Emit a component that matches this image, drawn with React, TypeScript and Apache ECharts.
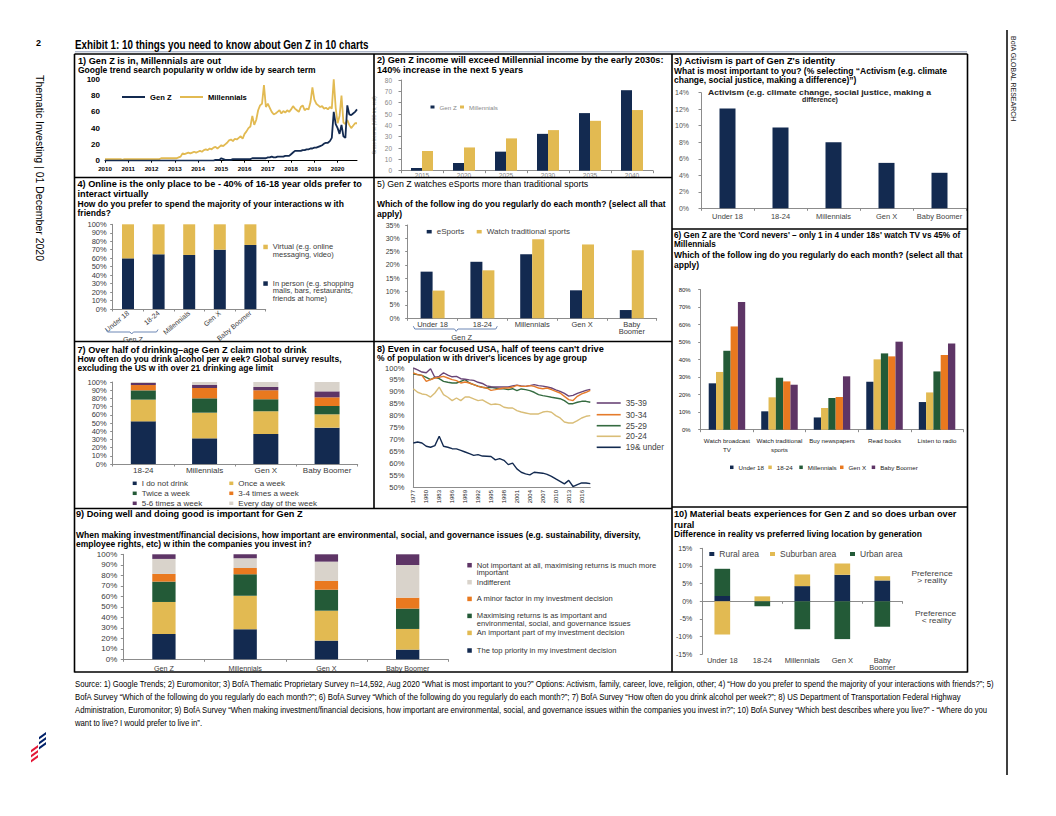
import React, { useEffect, useRef } from 'react';
import * as echarts from 'echarts';

const FONT = '"Liberation Sans", Arial, Helvetica, sans-serif';

const NAVY = '#132a50';
const GOLD = '#e2ba52';
const GREEN = '#235a37';
const ORANGE = '#e9791f';
const PURPLE = '#5e3566';
const LIGHT = '#d9d3cb';
const AXIS = '#8c8c8c';
const LABEL = '#3a3a3a';

// ---------- 1) Google trends (monthly, Jan 2010 - Nov 2020)
const trendYears = ['2010', '2011', '2012', '2013', '2014', '2015', '2016', '2017', '2018', '2019', '2020'];
const millennialsTrend = [
  2, 2, 2, 2, 2, 2, 2, 2, 2, 1, 2, 2,
  2, 2, 2, 2, 2, 2, 2, 2, 2, 2, 2, 2,
  2, 2, 2, 2, 2, 3, 3, 3, 3, 3, 3, 3,
  3, 3, 4, 5, 9, 8, 9, 10, 9, 10, 11, 10,
  11, 12, 11, 13, 14, 13, 15, 14, 16, 17, 15, 17,
  19, 18, 20, 22, 25, 26, 24, 27, 26, 28, 30, 27,
  33, 36, 40, 42, 55, 44, 50, 62, 68, 70, 93, 66,
  70, 65, 60, 57, 58, 60, 62, 58, 61, 59, 62, 60,
  63, 67, 64, 62, 60, 66, 68, 62, 64, 63, 72, 90,
  75, 70, 68, 66, 67, 64, 65, 63, 66, 64, 100, 65,
  46, 55, 80, 47, 45, 50, 44, 40, 43, 46, 46,
];
const genZTrend = [
  0, 0, 0, 0, 0, 0, 0, 0, 0, 0, 0, 0,
  0, 0, 0, 0, 0, 0, 0, 0, 0, 0, 0, 0,
  0, 0, 0, 0, 0, 0, 0, 0, 0, 0, 0, 0,
  0, 0, 0, 0, 0, 0, 0, 0, 0, 0, 0, 0,
  0, 0, 0, 0, 0, 0, 0, 0, 0, 1, 1, 1,
  3, 2, 1, 1, 1, 1, 2, 2, 2, 2, 2, 2,
  2, 2, 2, 2, 3, 3, 3, 3, 3, 3, 3, 3,
  4, 4, 5, 4, 4, 5, 5, 5, 5, 6, 6, 6,
  8, 10, 12, 12, 12, 12, 13, 13, 14, 14, 15, 15,
  16, 16, 17, 18, 19, 21, 22, 22, 24, 28, 60, 45,
  40, 33, 44, 30, 28, 68, 57, 56, 58, 60, 63,
];
const trendMonths = trendYears
  .flatMap((y) => ['01', '02', '03', '04', '05', '06', '07', '08', '09', '10', '11', '12'].map((m) => `${y}-${m}`))
  .slice(0, genZTrend.length);

// ---------- 2) Income
const incomeYears = ['2015', '2020', '2025', '2030', '2035', '2040'];
const genZIncome = [2.4, 6.8, 16.8, 32.5, 50.8, 71];
const millennialIncome = [17.4, 20.5, 28.5, 35.8, 44, 53.5];

// ---------- 3) Activism
const generations5 = ['Under 18', '18-24', 'Millennials', 'Gen X', 'Baby Boomer'];
const activismShare = [12.1, 9.8, 8.0, 5.5, 4.3];

// ---------- 4) Online vs in person
const inPersonShare = [59.8, 64.6, 63.8, 70, 75.6];
const virtualShare = [40.2, 35.4, 36.2, 30, 24.4];

// ---------- 5) eSports
const sportsCats = ['Under 18', '18-24', 'Millennials', 'Gen X', 'Baby\nBoomer'];
const eSportsShare = [17.5, 21.2, 24, 10.5, 3.1];
const tradSportsShare = [10.4, 18, 29.7, 27.7, 25.5];

// ---------- 6) Cord nevers
const activities = ['Watch broadcast\nTV', 'Watch traditional\nsports', 'Buy newspapers', 'Read books', 'Listen to radio'];
const actUnder18 = [26.5, 10.5, 7, 27.4, 15.8];
const act1824 = [33, 18.5, 12.4, 40.2, 21.3];
const actMillennials = [45.1, 29.7, 18.1, 43.6, 33.3];
const actGenX = [59, 27.6, 18.7, 41.9, 42.7];
const actBoomer = [73, 25.7, 30.5, 50.3, 49.3];

// ---------- 7) Drinking
const drinkGens = ['18-24', 'Millennials', 'Gen X', 'Baby Boomer'];
const noDrink = [52, 31.3, 36.6, 44.3];
const onceWeek = [26.5, 31.3, 27.6, 16.3];
const twiceWeek = [11.3, 17.5, 14.7, 10.1];
const threeFourWeek = [6.5, 12.6, 10.9, 10.6];
const fiveSixWeek = [2.5, 4, 4.1, 7.3];
const everyDay = [1.2, 3.3, 6.1, 11.4];

// ---------- 8) Licences
const licenceYears = [
  '1977', '1978', '1979', '1980', '1981', '1982', '1983', '1984', '1985', '1986',
  '1987', '1988', '1989', '1990', '1991', '1992', '1993', '1994', '1995', '1996',
  '1997', '1998', '1999', '2000', '2001', '2002', '2003', '2004', '2005', '2006',
  '2007', '2008', '2009', '2010', '2011', '2012', '2013', '2014', '2015', '2016',
  '2017', '2018',
];
const lic35 = [100, 99.2, 98.3, 98.0, 99.7, 96.0, 96.5, 98.0, 97.0, 96.3, 96.5, 95.5, 95.3, 95.0, 94.8, 94.0, 93.5, 92.5, 92.1, 92.0, 92.0, 92.0, 92.0, 92.5, 92.8, 92.5, 92.3, 92.6, 93.0, 92.6, 92.4, 92.0, 91.6, 90.8, 90.2, 89.3, 88.2, 88.5, 89.3, 90.0, 90.6, 91.0];
const lic30 = [97.9, 97.2, 96.9, 94.4, 95.1, 95.8, 96.1, 96.5, 95.8, 95.1, 94.7, 93.7, 94.1, 93.7, 93.0, 92.3, 91.9, 91.6, 90.6, 90.9, 91.3, 91.6, 91.6, 92.0, 92.7, 92.3, 92.3, 92.6, 92.3, 91.6, 91.3, 91.6, 90.9, 90.2, 89.5, 88.1, 86.7, 86.3, 88.1, 89.1, 89.8, 90.6];
const lic25 = [97.5, 97.2, 96.9, 96.1, 95.1, 96.1, 95.5, 94.4, 94.0, 93.7, 93.7, 94.4, 95.1, 93.7, 93.0, 92.4, 91.9, 91.6, 91.9, 91.6, 91.3, 91.3, 90.9, 91.3, 90.5, 91.2, 90.9, 90.5, 89.8, 88.8, 88.4, 88.1, 87.7, 87.4, 87.1, 86.3, 85.0, 85.0, 85.6, 86.0, 86.0, 85.6];
const lic20 = [91.3, 89.8, 89.1, 88.8, 87.8, 89.5, 92.0, 88.8, 87.7, 86.3, 87.4, 86.3, 87.8, 87.8, 87.0, 86.3, 86.6, 85.6, 84.6, 84.9, 84.6, 83.5, 83.2, 83.2, 82.1, 81.5, 81.1, 80.7, 80.7, 80.7, 81.5, 81.8, 81.4, 80.0, 79.0, 77.3, 76.9, 76.9, 77.9, 79.0, 79.7, 80.0];
const lic19 = [68.5, 68.9, 68.5, 67.1, 66.7, 67.4, 71.3, 67.1, 66.7, 66.1, 66.0, 65.4, 64.7, 64.0, 63.3, 63.6, 63.0, 62.9, 62.8, 61.4, 61.9, 61.2, 59.4, 60.0, 57.6, 56.2, 55.5, 55.1, 56.2, 56.0, 55.8, 55.3, 54.5, 53.4, 52.4, 51.3, 52.8, 50.2, 51.0, 51.7, 51.7, 51.4];

// ---------- 9) ESG importance
const investGens = ['Gen Z', 'Millennials', 'Gen X', 'Baby Boomer'];
const topPriority = [24.1, 28.6, 17.8, 9.2];
const importantPart = [30.5, 32.0, 28.5, 19.7];
const asImportant = [19.4, 20.4, 20.0, 19.4];
const minorFactor = [7.3, 6.0, 8.3, 10.4];
const indifferent = [14.3, 9.2, 18.4, 31.1];
const notImportant = [4.4, 3.8, 7.0, 10.2];

// ---------- 10) Living location
const locationGens = ['Under 18', '18-24', 'Millennials', 'Gen X', 'Baby\nBoomer'];
const ruralDiff = [1.5, 0, 4.3, 7.5, 5.9];
const suburbanDiff = [-9.4, 1.4, 3.3, 3.2, 1.2];
const urbanDiff = [7.7, -1.4, -7.9, -10.7, -7.2];

const SOURCE_LINES = [
  'Source: 1) Google Trends; 2) Euromonitor; 3) BofA Thematic Proprietary Survey n=14,592, Aug 2020 \u201cWhat is most important to you?\u201d Options: Activism, family, career, love, religion, other; 4) \u201cHow do you prefer to spend the majority of your interactions with friends?\u201d; 5)',
  'BofA Survey \u201cWhich of the following do you regularly do each month?\u201d; 6) BofA Survey \u201cWhich of the following do you regularly do each month?\u201d; 7) BofA Survey \u201cHow often do you drink alcohol per week?\u201d; 8) US Department of Transportation Federal Highway',
  'Administration, Euromonitor; 9) BofA Survey \u201cWhen making investment/financial decisions, how important are environmental, social, and governance issues within the companies you invest in?\u201d; 10) BofA Survey \u201cWhich best describes where you live?\u201d - \u201cWhere do you',
  'want to live? I would prefer to live in\u201d.',
];

const DISPLAY: Record<string, string> = {
  'Virtual|4': 'Virtual (e.g. online',
  'In person|4': 'In person (e.g. shopping',
};

function catX(gridIndex: number, data: string[], label: any = {}, extra: any = {}): any {
  return {
    type: 'category', gridIndex, data,
    axisLine: { show: true, lineStyle: { color: AXIS, width: 1 } },
    axisTick: { show: true, length: 2.5, lineStyle: { color: AXIS } },
    axisLabel: { fontSize: 7.5, color: LABEL, fontFamily: FONT, margin: 3, interval: 0, lineHeight: 7.5, ...label },
    splitLine: { show: false },
    ...extra,
  };
}
function valY(gridIndex: number, min: number, max: number, interval: number, suffix: string, label: any = {}, extra: any = {}): any {
  return {
    type: 'value', gridIndex, min, max, interval,
    axisLine: { show: true, lineStyle: { color: AXIS, width: 1 } },
    axisTick: { show: true, length: 2.5, lineStyle: { color: AXIS } },
    axisLabel: { fontSize: 7.5, color: LABEL, fontFamily: FONT, margin: 6, formatter: (v: number) => `${v}${suffix}`, ...label },
    splitLine: { show: false },
    ...extra,
  };
}
function bar(name: string, data: number[], color: string, idx: number, opts: any = {}): any {
  return { type: 'bar', name, data, xAxisIndex: idx, yAxisIndex: idx, itemStyle: { color }, silent: true, ...opts };
}
function line(name: string, data: number[], color: string, idx: number, width = 1.4): any {
  return {
    type: 'line', name, data, xAxisIndex: idx, yAxisIndex: idx, symbol: 'none', silent: true,
    lineStyle: { color, width }, itemStyle: { color },
  };
}
function leg(name: string, left: number, cy: number, o: any = {}): any {
  const h = o.h ?? 8;
  return {
    data: [name], left, top: cy - h / 2, orient: 'horizontal', padding: 0, itemGap: 0,
    itemWidth: o.iw ?? 4.5, itemHeight: o.ih ?? 4.5, selectedMode: false, icon: 'rect',
    textStyle: { fontSize: o.size ?? 7.5, color: o.color ?? LABEL, fontFamily: FONT, lineHeight: h, fontWeight: o.weight ?? 'normal' },
    formatter: (n: string) => DISPLAY[n] ?? n.split('|')[0],
  };
}
function T(x: number, y: number, text: string, o: any = {}): any {
  return {
    type: 'text', x, y, z: 100, silent: true, rotation: o.rot ?? 0, scaleX: o.sx ?? 1,
    style: {
      text, fill: o.fill ?? '#000', fontSize: o.size ?? 7, fontWeight: o.weight ?? 'normal',
      fontFamily: FONT, align: o.align ?? 'left', verticalAlign: 'middle',
    },
  };
}
const TITLE = { size: 9.2, weight: 'bold' };
const SUB = { size: 8.5, weight: 'bold' };
function L(x1: number, y1: number, x2: number, y2: number, w = 1.6, c = '#000'): any {
  return { type: 'line', z: 100, silent: true, shape: { x1, y1, x2, y2 }, style: { stroke: c, lineWidth: w } };
}
function poly(points: number[][], fill: string): any {
  return { type: 'polygon', z: 100, silent: true, shape: { points }, style: { fill } };
}

function buildOption(): any {
  const grids = [
    { left: 105, top: 79.3, width: 252, height: 81.4 },
    { left: 401, top: 80, width: 252, height: 90.7 },
    { left: 701, top: 92.7, width: 265, height: 115.6 },
    { left: 112.7, top: 224.3, width: 153, height: 84.7 },
    { left: 407.7, top: 225, width: 249, height: 93.3 },
    { left: 700.7, top: 289.7, width: 262.6, height: 140 },
    { left: 112.7, top: 382, width: 245, height: 82 },
    { left: 413.3, top: 368, width: 177, height: 119 },
    { left: 123.3, top: 554.3, width: 325, height: 105 },
    { left: 702.3, top: 548.3, width: 200, height: 106 },
  ].map((g) => ({ ...g, containLabel: false, outerBoundsMode: 'none' }));

  const yearTick = (i: number) => i % 12 === 0;
  const xAxis: any[] = [
    catX(0, trendMonths, { fontSize: 6.2, fontWeight: 'bold', color: '#000', margin: 4, interval: yearTick, formatter: (v: string) => v.slice(0, 4) },
      { boundaryGap: false, axisLine: { lineStyle: { color: '#000', width: 1 } }, axisTick: { interval: yearTick, length: 2, lineStyle: { color: '#000' } } }),
    catX(1, incomeYears, { fontSize: 6.5, color: '#888', margin: 1 }),
    catX(2, generations5, { margin: 4, color: '#444' }),
    catX(3, generations5, { rotate: 40, margin: 3, fontSize: 7 }),
    catX(4, sportsCats, { margin: 3, lineHeight: 7, fontSize: 7.5 }),
    catX(5, activities, { fontSize: 6.2, lineHeight: 9.3, margin: 6, color: '#222' }),
    catX(6, drinkGens, { margin: 3, fontSize: 8 }),
    catX(7, licenceYears, { fontSize: 6, rotate: 90, interval: 2, margin: 3, color: '#222' },
      { boundaryGap: false, axisTick: { show: false } }),
    catX(8, investGens, { margin: 5, fontSize: 7.2 }),
    catX(9, locationGens, { margin: 3, lineHeight: 7 }, { axisLine: { show: false, onZero: false }, axisTick: { show: false } }),
    {
      type: 'category', gridIndex: 9, data: locationGens, position: 'bottom',
      axisLine: { show: true, onZero: true, lineStyle: { color: AXIS, width: 1 } },
      axisTick: { show: true, length: 2.5, lineStyle: { color: AXIS } },
      axisLabel: { show: false }, splitLine: { show: false },
    },
  ];
  const yAxis: any[] = [
    valY(0, 0, 100, 20, '', { fontSize: 8, fontWeight: 'bold', color: '#000', margin: 5 },
      { axisLine: { lineStyle: { color: '#000', width: 1 } }, axisTick: { length: 2, lineStyle: { color: '#000' } } }),
    valY(1, 0, 80, 10, '', { fontSize: 6.5, color: '#888', margin: 9 },
      { name: 'Gross income (USD trn, real)', nameLocation: 'middle', nameRotate: 90, nameGap: 24, nameTextStyle: { fontSize: 4.5, color: '#999', fontFamily: FONT } }),
    valY(2, 0, 14, 2, '%', { margin: 12, color: '#555', fontSize: 7 }),
    valY(3, 0, 100, 10, '%', { margin: 6 }),
    valY(4, 0, 35, 5, '%', { margin: 8, fontSize: 7 }),
    valY(5, 0, 80, 10, '%', { fontSize: 6, margin: 10, color: '#222' }),
    valY(6, 0, 100, 10, '%', { margin: 6 }),
    valY(7, 50, 100, 5, '%', { margin: 9 }, { axisTick: { show: false } }),
    valY(8, 0, 100, 10, '%', { margin: 6, fontSize: 8 }),
    valY(9, -15, 15, 5, '%', { margin: 10, fontSize: 7 }),
  ];

  const series: any[] = [
    line('Millennials|1', millennialsTrend, GOLD, 0, 1.8),
    line('Gen Z|1', genZTrend, NAVY, 0, 1.8),

    bar('Gen Z|2', genZIncome, NAVY, 1, { barWidth: 11, barGap: '0%' }),
    bar('Millennials|2', millennialIncome, GOLD, 1, { barWidth: 11, barGap: '0%' }),

    bar('Activism|3', activismShare, NAVY, 2, { barWidth: 16 }),

    bar('In person|4', inPersonShare, NAVY, 3, { barWidth: 12, stack: 's4' }),
    bar('Virtual|4', virtualShare, GOLD, 3, { barWidth: 12, stack: 's4' }),

    bar('eSports|5', eSportsShare, NAVY, 4, { barWidth: 12, barGap: '0%' }),
    bar('Watch traditional sports|5', tradSportsShare, GOLD, 4, { barWidth: 12, barGap: '0%' }),

    bar('Under 18|6', actUnder18, NAVY, 5, { barWidth: 7.3, barGap: '0%' }),
    bar('18-24|6', act1824, GOLD, 5, { barWidth: 7.3, barGap: '0%' }),
    bar('Millennials|6', actMillennials, GREEN, 5, { barWidth: 7.3, barGap: '0%' }),
    bar('Gen X|6', actGenX, ORANGE, 5, { barWidth: 7.3, barGap: '0%' }),
    bar('Baby Boomer|6', actBoomer, PURPLE, 5, { barWidth: 7.3, barGap: '0%' }),

    bar('I do not drink|7', noDrink, NAVY, 6, { barWidth: 25, stack: 's7' }),
    bar('Once a week|7', onceWeek, GOLD, 6, { barWidth: 25, stack: 's7' }),
    bar('Twice a week|7', twiceWeek, GREEN, 6, { barWidth: 25, stack: 's7' }),
    bar('3-4 times a week|7', threeFourWeek, ORANGE, 6, { barWidth: 25, stack: 's7' }),
    bar('5-6 times a week|7', fiveSixWeek, PURPLE, 6, { barWidth: 25, stack: 's7' }),
    bar('Every day of the week|7', everyDay, LIGHT, 6, { barWidth: 25, stack: 's7' }),

    line('19& under|8', lic19, NAVY, 7),
    line('20-24|8', lic20, '#d9bd77', 7),
    line('25-29|8', lic25, '#356b40', 7),
    line('35-39|8', lic35, '#6a4577', 7),
    line('30-34|8', lic30, '#e57b2b', 7),

    bar('The top priority in my investment decision|9', topPriority, NAVY, 8, { barWidth: 23.3, stack: 's9' }),
    bar('An important part of my investment decision|9', importantPart, GOLD, 8, { barWidth: 23.3, stack: 's9' }),
    bar('Maximising returns is as important and|9', asImportant, GREEN, 8, { barWidth: 23.3, stack: 's9' }),
    bar('A minor factor in my investment decision|9', minorFactor, ORANGE, 8, { barWidth: 23.3, stack: 's9' }),
    bar('Indifferent|9', indifferent, LIGHT, 8, { barWidth: 23.3, stack: 's9' }),
    bar('Not important at all, maximising returns is much more|9', notImportant, PURPLE, 8, { barWidth: 23.3, stack: 's9' }),

    bar('Rural area|10', ruralDiff, NAVY, 9, { barWidth: 15.7, stack: 's10' }),
    bar('Suburban area|10', suburbanDiff, GOLD, 9, { barWidth: 15.7, stack: 's10' }),
    bar('Urban area|10', urbanDiff, GREEN, 9, { barWidth: 15.7, stack: 's10' }),
  ];

  const lineLeg = { iw: 23, ih: 2, size: 7.6, weight: 'bold', color: '#000', h: 9 };
  const p8Leg = { iw: 24, ih: 1.6, size: 8.3, color: '#444', h: 9 };
  const p6Leg = { iw: 3.5, ih: 3.5, size: 6.2, color: '#222' };
  const p9Leg = { size: 7.6, color: '#333', h: 7.6 };
  const legend: any[] = [
    leg('Gen Z|1', 122, 97, lineLeg),
    leg('Millennials|1', 180, 97, lineLeg),
    leg('Gen Z|2', 430.5, 107, { iw: 4, ih: 3, size: 6.2, color: '#888' }),
    leg('Millennials|2', 460, 107, { iw: 4, ih: 3, size: 6.2, color: '#888' }),
    leg('Virtual|4', 263.3, 246.7, { size: 7.5, h: 7.5 }),
    leg('In person|4', 263.3, 283.3, { size: 7.5, h: 7.5 }),
    leg('eSports|5', 426.7, 231.7, { iw: 5, ih: 3.5, color: '#444', size: 8 }),
    leg('Watch traditional sports|5', 476.7, 231.7, { iw: 5, ih: 3.5, color: '#444', size: 8 }),
    leg('Under 18|6', 730, 467.3, p6Leg),
    leg('18-24|6', 768.3, 467.3, p6Leg),
    leg('Millennials|6', 799.3, 467.3, p6Leg),
    leg('Gen X|6', 840, 467.3, p6Leg),
    leg('Baby Boomer|6', 871.7, 467.3, p6Leg),
    leg('I do not drink|7', 132.7, 483.3, { iw: 4, ih: 3.5, size: 8, h: 9 }),
    leg('Twice a week|7', 132.7, 493.3, { iw: 4, ih: 3.5, size: 8, h: 9 }),
    leg('5-6 times a week|7', 132.7, 503.3, { iw: 4, ih: 3.5, size: 8, h: 9 }),
    leg('Once a week|7', 229.3, 483.3, { iw: 4, ih: 3.5, size: 8, h: 9 }),
    leg('3-4 times a week|7', 229.3, 493.3, { iw: 4, ih: 3.5, size: 8, h: 9 }),
    leg('Every day of the week|7', 229.3, 503.3, { iw: 4, ih: 3.5, size: 8, h: 9 }),
    leg('35-39|8', 596.7, 403, p8Leg),
    leg('30-34|8', 596.7, 414.7, p8Leg),
    leg('25-29|8', 596.7, 425.7, p8Leg),
    leg('20-24|8', 596.7, 436.3, p8Leg),
    leg('19& under|8', 596.7, 447.3, p8Leg),
    leg('Not important at all, maximising returns is much more|9', 467.3, 565, p9Leg),
    leg('Indifferent|9', 467.3, 582, p9Leg),
    leg('A minor factor in my investment decision|9', 467.3, 598.7, p9Leg),
    leg('Maximising returns is as important and|9', 467.3, 615.7, p9Leg),
    leg('An important part of my investment decision|9', 467.3, 632.7, p9Leg),
    leg('The top priority in my investment decision|9', 467.3, 650.3, p9Leg),
    leg('Rural area|10', 709.3, 554, { iw: 5, ih: 4, size: 8.5, color: '#444', h: 9 }),
    leg('Suburban area|10', 770, 554, { iw: 5, ih: 4, size: 8.5, color: '#444', h: 9 }),
    leg('Urban area|10', 850, 554, { iw: 5, ih: 4, size: 8.5, color: '#444', h: 9 }),
  ];

  const elements: any[] = [
    // frame
    L(75, 51.8, 967, 51.8, 1, '#8d9bb6'),
    L(74.5, 54, 967.5, 54),
    L(74.5, 54, 74.5, 672.5),
    L(967.5, 54, 967.5, 672.5),
    L(74.5, 672, 967.5, 672),
    L(374, 54, 374, 508.5),
    L(672, 54, 672, 672),
    L(74.5, 177.5, 672, 177.5),
    L(74.5, 341.5, 672, 341.5),
    L(74.5, 508.5, 672, 508.5),
    L(672, 229, 967.5, 229),
    L(672, 507, 967.5, 507),
    { type: 'rect', z: 99, silent: true, shape: { x: 376, y: 178.4, width: 294, height: 4 }, style: { fill: '#fff' } },
    // page furniture
    L(1007, 30, 1007, 775, 1.5, '#000'),
    T(36, 43, '2', { size: 9, weight: 'bold' }),
    T(40, 75, 'Thematic Investing | 01 December 2020', { size: 10.5, rot: -Math.PI / 2 }),
    T(1013, 36, 'BofA GLOBAL RESEARCH', { size: 7, rot: -Math.PI / 2, fill: '#222' }),
    poly([[39, 737], [46, 732], [46, 734.5], [39, 739.5]], '#012169'),
    poly([[39, 742], [46, 737], [46, 739.5], [39, 744.5]], '#012169'),
    poly([[39, 747], [46, 742], [46, 744.5], [39, 749.5]], '#012169'),
    poly([[31, 750], [38, 745], [38, 747.5], [31, 752.5]], '#e31837'),
    poly([[31, 755], [38, 750], [38, 752.5], [31, 757.5]], '#e31837'),
    poly([[31, 760], [38, 755], [38, 757.5], [31, 762.5]], '#e31837'),
    T(75, 45, 'Exhibit 1: 10 things you need to know about Gen Z in 10 charts', { size: 12, weight: 'bold', sx: 0.82 }),
    // panel 1
    T(78, 60.5, '1) Gen Z is in, Millennials are out', TITLE),
    T(78, 70, 'Google trend search popularity w orldw ide by search term', SUB),
    // panel 2
    T(377, 60, '2) Gen Z income will exceed Millennial income by the early 2030s:', TITLE),
    T(377, 70, '140% increase in the next 5 years', TITLE),
    // panel 3
    T(674, 60.5, "3) Activism is part of Gen Z's identity", TITLE),
    T(674, 70.7, 'What is most important to you? (% selecting \u201cActivism (e.g. climate', SUB),
    T(674, 80, 'change, social justice, making a difference)\u201d)', SUB),
    T(708, 92.5, 'Activism (e.g. climate change, social justice, making a', { size: 7, weight: 'bold', sx: 1.24, fill: '#222' }),
    T(820, 99.3, 'difference)', { size: 7, weight: 'bold', align: 'center', fill: '#222' }),
    // panel 4
    T(77.5, 184, '4) Online is the only place to be - 40% of 16-18 year olds prefer to', TITLE),
    T(77.5, 194, 'interact virtually', TITLE),
    T(77.5, 204.3, 'How do you prefer to spend the majority of your interactions w ith', SUB),
    T(77.5, 213.3, 'friends?', SUB),
    T(272.8, 254.3, 'messaging, video)', { size: 7.5, fill: LABEL }),
    T(272.8, 290.7, 'malls, bars, restaurants,', { size: 7.5, fill: LABEL }),
    T(272.8, 298.2, 'friends at home)', { size: 7.5, fill: LABEL }),
    { type: 'polyline', z: 100, silent: true, shape: { points: [[106, 329.5], [107.5, 332], [130, 332], [131.7, 334], [133.4, 332], [156.5, 332], [158, 329.5]] }, style: { stroke: '#6d87b5', lineWidth: 1, fill: 'none' } },
    T(133, 339, 'Gen Z', { size: 7.2, align: 'center', fill: LABEL }),
    // panel 5
    T(377, 184.3, '5) Gen Z watches eSports more than traditional sports', { size: 8.8 }),
    T(377, 204.3, 'Which of the follow ing do you regularly do each month? (select all that', SUB),
    T(377, 214, 'apply)', SUB),
    { type: 'polyline', z: 100, silent: true, shape: { points: [[413.3, 326.2], [414.8, 329], [454.5, 329], [456.2, 331.3], [457.9, 329], [495.8, 329], [497.3, 326.2]] }, style: { stroke: '#6d87b5', lineWidth: 1, fill: 'none' } },
    T(461.7, 337.5, 'Gen Z', { size: 7.5, align: 'center', fill: LABEL }),
    // panel 6
    T(674, 235.3, "6) Gen Z are the 'Cord nevers' \u2013 only 1 in 4 under 18s' watch TV vs 45% of", { size: 8.2, weight: 'bold' }),
    T(674, 244.7, 'Millennials', { size: 8.2, weight: 'bold' }),
    T(674, 255.3, 'Which of the follow ing do you regularly do each month? (select all that', SUB),
    T(674, 264.7, 'apply)', SUB),
    // panel 7
    T(77.5, 350, '7) Over half of drinking\u2013age Gen Z claim not to drink', TITLE),
    T(77.5, 358.9, 'How often do you drink alcohol per w eek? Global survey results,', SUB),
    T(77.5, 368, 'excluding the US w ith over 21 drinking age limit', SUB),
    // panel 8
    T(377, 348.7, "8) Even in car focused USA, half of teens can't drive", TITLE),
    T(377, 357.8, "% of population w ith driver's licences by age group", SUB),
    // panel 9
    T(76, 514, '9) Doing well and doing good is important for Gen Z', TITLE),
    T(76, 535, 'When making investment/financial decisions, how important are environmental, social, and governance issues (e.g. sustainability, diversity,', SUB),
    T(76, 543.8, 'employee rights, etc) w ithin the companies you invest in?', SUB),
    T(476.8, 572.7, 'important', { size: 7.6, fill: '#333' }),
    T(476.8, 623.5, 'environmental, social, and governance issues', { size: 7.6, fill: '#333' }),
    // panel 10
    T(674, 514, '10) Material beats experiences for Gen Z and so does urban over', TITLE),
    T(674, 524.5, 'rural', TITLE),
    T(674, 534.3, 'Difference in reality vs preferred living location by generation', SUB),
    T(932, 573.6, 'Preference', { size: 6.5, sx: 1.3, align: 'center', fill: '#444' }),
    T(932, 580.8, '> reality', { size: 6.5, sx: 1.3, align: 'center', fill: '#444' }),
    T(935.5, 613.8, 'Preference', { size: 6.5, sx: 1.3, align: 'center', fill: '#444' }),
    T(936.5, 621, '< reality', { size: 6.5, sx: 1.3, align: 'center', fill: '#444' }),
    // source
    ...SOURCE_LINES.map((s, i) => T(75, 684 + i * 13, s, { size: 9, sx: 0.86 })),
  ];

  return {
    animation: false,
    backgroundColor: '#fff',
    textStyle: { fontFamily: FONT },
    grid: grids,
    xAxis,
    yAxis,
    series,
    legend,
    graphic: { elements },
  };
}

export default function App() {
  const ref = useRef<HTMLDivElement>(null);
  useEffect(() => {
    if (!ref.current) return;
    const chart = echarts.init(ref.current, undefined, { renderer: 'svg' });
    chart.setOption(buildOption());
    return () => chart.dispose();
  }, []);
  return (
    <div
      ref={ref}
      style={{ position: 'fixed', left: 0, top: 0, width: 1056, height: 816, background: '#fff' }}
    />
  );
}
